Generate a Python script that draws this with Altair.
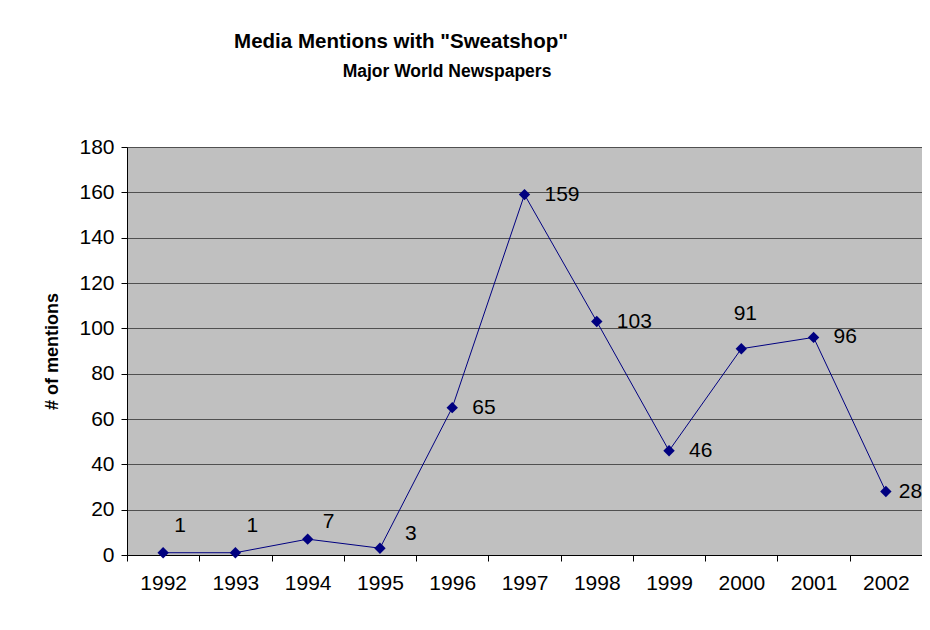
import altair as alt
import pandas as pd

years = ["1992", "1993", "1994", "1995", "1996", "1997", "1998", "1999", "2000", "2001", "2002"]
mentions = [1, 1, 7, 3, 65, 159, 103, 46, 91, 96, 28]

df = pd.DataFrame({"year": years, "mentions": mentions})

FONT = "Liberation Sans"
NAVY = "#000080"
FS = 21

x = alt.X("year:N", sort=years, title=None,
          scale=alt.Scale(paddingInner=0, paddingOuter=0),
          axis=alt.Axis(labelAngle=0, tickBand="extent", labelFontSize=FS, labelFont=FONT,
                        labelColor="#000000", domainColor="#000000", tickColor="#000000",
                        tickSize=6, labelPadding=11, grid=False))
y = alt.Y("mentions:Q", title="# of mentions",
          scale=alt.Scale(domain=[0, 180], nice=False),
          axis=alt.Axis(values=list(range(0, 181, 20)), labelFontSize=FS, labelFont=FONT,
                        labelColor="#000000", domainColor="#000000", tickColor="#000000",
                        tickSize=6, labelPadding=7, gridColor="#505050", gridWidth=1,
                        titleFont=FONT, titleFontSize=18, titleFontWeight="bold",
                        titleColor="#000000", titlePadding=17))

base = alt.Chart(df)

line = base.mark_line(color=NAVY, strokeWidth=1).encode(x=x, y=y)
pts = base.mark_point(shape="diamond", filled=True, color=NAVY, size=130, opacity=1).encode(x=x, y=y)

def labels(sel, dx, dy, align="left"):
    return base.transform_filter(
        alt.FieldOneOfPredicate(field="year", oneOf=sel)
    ).mark_text(font=FONT, fontSize=FS, color="#000000", align=align,
                baseline="middle", dx=dx, dy=dy).encode(x=x, y=y, text="mentions:Q")

lab = [
    labels(["1992", "1993"], 11, -27),
    labels(["1994"], 15, -17),
    labels(["1995"], 25, -14),
    labels(["1996", "1997", "1998", "1999", "2001"], 20, 0),
    labels(["2002"], 13, 0),
    labels(["2000"], 4, -35, "center"),
]

title_df = pd.DataFrame({"t": ["Media Mentions with \"Sweatshop\""]})
sub_df = pd.DataFrame({"t": ["Major World Newspapers"]})

title = alt.Chart(title_df).mark_text(
    font=FONT, fontSize=20.5, fontWeight="bold", color="#000000",
    align="center", baseline="middle"
).encode(x=alt.value(274), y=alt.value(-105), text="t:N")

subtitle = alt.Chart(sub_df).mark_text(
    font=FONT, fontSize=17.5, fontWeight="bold", color="#000000", align="center",
    baseline="middle"
).encode(x=alt.value(320), y=alt.value(-75), text="t:N")

chart = alt.layer(line, pts, *lab, title, subtitle).properties(
    width=795, height=408,
    padding={"left": 119, "top": 139, "right": 0, "bottom": 60},
    autosize=alt.AutoSizeParams(type="none"),
    background="#ffffff",
).configure_view(fill="#C0C0C0", stroke="#808080", strokeWidth=1)

chart.save("out.html", embed_options={"renderer": "svg", "actions": False})
